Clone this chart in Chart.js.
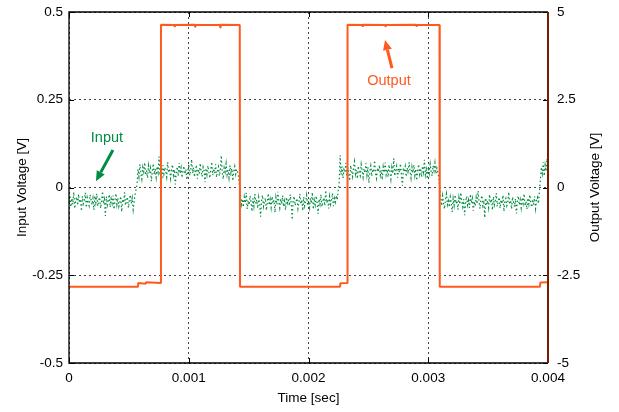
<!DOCTYPE html>
<html>
<head>
<meta charset="utf-8">
<script src="https://cdn.jsdelivr.net/npm/chart.js@4.4.1/dist/chart.umd.min.js"></script>
<style>
  html, body { margin: 0; padding: 0; background: #fff; }
  #wrap { width: 619px; height: 412px; }
</style>
</head>
<body>
<div id="wrap"><canvas id="c" width="619" height="412"></canvas></div>
<script>
// sample spacing of the input trace (seconds)
const inputStep = 0.000008;

// input voltage samples [V]
const inputVolts = [
  -0.041,-0.022,-0.055,-0.030,-0.048,-0.013,-0.060,-0.036,-0.027,-0.051,-0.019,-0.044,
  -0.033,-0.067,-0.025,-0.046,-0.038,-0.015,-0.057,-0.029,-0.042,-0.052,-0.021,-0.035,
  -0.049,-0.031,-0.064,-0.024,-0.043,-0.018,-0.053,-0.037,-0.028,-0.059,-0.040,-0.011,
  -0.047,-0.034,-0.081,-0.026,-0.050,-0.039,-0.020,-0.056,-0.032,-0.045,-0.023,-0.062,
  -0.036,-0.017,-0.048,-0.030,-0.054,-0.041,-0.025,-0.069,-0.033,-0.044,-0.014,-0.051,
  -0.038,-0.027,-0.058,-0.035,-0.021,-0.046,-0.030,-0.063,-0.040,-0.019,-0.006,0.008,

  0.052,0.031,0.066,0.040,0.024,0.058,0.045,0.071,0.035,0.049,0.027,0.062,
  0.041,0.055,0.018,0.047,0.068,0.037,0.053,0.029,0.060,0.044,0.088,0.034,
  0.050,0.023,0.063,0.039,0.057,0.046,0.030,0.072,0.042,0.054,0.026,0.048,
  0.065,0.036,0.051,0.009,0.043,0.059,0.033,0.070,0.040,0.056,0.028,0.047,
  0.061,0.038,0.052,0.022,0.045,0.067,0.034,0.049,0.080,0.041,0.057,0.030,
  0.046,0.064,0.025,0.053,0.039,0.069,0.044,0.031,0.058,0.048,0.015,0.055,
  0.037,0.062,0.043,0.027,0.050,0.073,0.035,0.054,0.040,0.066,0.029,0.047,
  0.059,0.033,0.052,0.091,0.042,0.024,0.056,0.045,0.068,0.036,0.050,0.028,
  0.063,0.041,0.054,0.019,0.047,0.060,0.038,0.052,0.044,0.030,

  0.003,-0.021,-0.048,-0.033,-0.056,-0.027,-0.044,-0.015,-0.061,-0.037,-0.050,-0.024,
  -0.042,-0.068,-0.031,-0.053,-0.019,-0.046,-0.035,-0.059,-0.028,-0.047,-0.083,-0.038,
  -0.022,-0.054,-0.040,-0.030,-0.065,-0.043,-0.017,-0.050,-0.034,-0.057,-0.026,-0.045,
  -0.036,-0.071,-0.029,-0.049,-0.012,-0.041,-0.058,-0.032,-0.047,-0.023,-0.055,-0.039,
  -0.064,-0.028,-0.044,-0.034,-0.052,-0.020,-0.046,-0.092,-0.037,-0.025,-0.051,-0.040,
  -0.031,-0.060,-0.043,-0.018,-0.048,-0.035,-0.066,-0.027,-0.053,-0.041,-0.022,-0.049,
  -0.038,-0.057,-0.030,-0.045,-0.014,-0.062,-0.036,-0.050,-0.024,-0.043,-0.075,-0.033,
  -0.047,-0.020,-0.055,-0.039,-0.029,-0.052,-0.008,-0.044,-0.034,-0.060,-0.026,-0.048,
  -0.037,-0.016,-0.053,-0.031,-0.042,-0.023,-0.035,-0.010,0.012,

  0.092,0.036,0.060,0.027,0.051,0.043,0.070,0.033,0.055,0.040,0.019,0.063,
  0.046,0.031,0.057,0.074,0.038,0.050,0.025,0.061,0.044,0.034,0.066,0.048,
  0.029,0.054,0.041,0.069,0.036,0.058,0.013,0.047,0.062,0.032,0.053,0.043,
  0.077,0.039,0.026,0.056,0.045,0.064,0.035,0.050,0.022,0.059,0.042,0.071,
  0.037,0.052,0.030,0.065,0.046,0.024,0.057,0.040,0.083,0.033,0.049,0.061,
  0.028,0.054,0.043,0.068,0.036,0.005,0.051,0.045,0.060,0.031,0.056,0.039,
  0.072,0.047,0.027,0.058,0.042,0.064,0.034,0.053,0.020,0.049,0.066,0.038,
  0.055,0.030,0.061,0.044,0.079,0.036,0.051,0.025,0.058,0.041,0.067,0.046,
  0.033,0.062,0.048,0.070,0.039,0.055,0.043,0.028,

  -0.004,-0.030,-0.052,-0.024,-0.045,-0.061,-0.035,-0.018,-0.049,-0.038,-0.056,-0.027,
  -0.043,-0.070,-0.032,-0.051,-0.021,-0.046,-0.037,-0.063,-0.029,-0.048,-0.015,-0.040,
  -0.055,-0.033,-0.079,-0.042,-0.025,-0.050,-0.036,-0.058,-0.019,-0.044,-0.031,-0.066,
  -0.039,-0.053,-0.028,-0.047,-0.010,-0.041,-0.060,-0.034,-0.023,-0.052,-0.043,-0.086,
  -0.030,-0.049,-0.037,-0.057,-0.020,-0.045,-0.033,-0.064,-0.026,-0.050,-0.039,-0.016,
  -0.054,-0.041,-0.028,-0.059,-0.035,-0.047,-0.022,-0.068,-0.038,-0.031,-0.052,-0.044,
  -0.013,-0.048,-0.036,-0.061,-0.027,-0.042,-0.055,-0.032,-0.074,-0.040,-0.024,-0.050,
  -0.035,-0.058,-0.029,-0.045,-0.018,-0.053,-0.039,-0.062,-0.030,-0.047,-0.021,-0.043,
  -0.056,-0.034,-0.049,-0.025,-0.060,-0.038,-0.028,-0.046,-0.014,

  0.021,0.058,0.040,0.072,0.033,0.064,0.047,0.082,0.052
];

// output trace corners (time [s], voltage [V])
const outputTimes = [
  0, 0.000576, 0.000578, 0.000640, 0.000644, 0.000766, 0.000768, 0.000880, 0.000883, 0.000886,
  0.001050, 0.001053, 0.001056, 0.001260, 0.001263, 0.001266, 0.001426, 0.001428, 0.002263, 0.002266,
  0.002324, 0.002326, 0.002450, 0.002453, 0.002456, 0.002640, 0.002643, 0.002646, 0.002900, 0.002903,
  0.002906, 0.003094, 0.003096, 0.003933, 0.003936, 0.004
];
const outputVolts = [
  -2.83, -2.83, -2.72, -2.74, -2.70, -2.72, 4.64, 4.63, 4.57, 4.63,
  4.64, 4.58, 4.63, 4.63, 4.56, 4.64, 4.63, -2.83, -2.83, -2.73,
  -2.72, 4.64, 4.63, 4.58, 4.64, 4.63, 4.57, 4.63, 4.64, 4.58,
  4.63, 4.63, -2.83, -2.83, -2.71, -2.70
];

const timeTicks = [0, 0.001, 0.002, 0.003, 0.004];
const inputTicks = [-0.5, -0.25, 0, 0.25, 0.5];
const outputTicks = [-5, -2.5, 0, 2.5, 5];

const green = '#008c42';
const orange = '#ff5a1e';
const FONT = 'Liberation Sans, Arial, Helvetica, sans-serif';

const inputPts = inputVolts.map((v, i) => ({ x: i * inputStep, y: v }));
const outputPts = outputTimes.map((t, i) => ({ x: t, y: outputVolts[i] }));

function arrow(ctx, x1, y1, x2, y2, color) {
  const ang = Math.atan2(y2 - y1, x2 - x1);
  const head = 10, half = 4.5;
  const bx = x2 - head * Math.cos(ang), by = y2 - head * Math.sin(ang);
  ctx.strokeStyle = color;
  ctx.fillStyle = color;
  ctx.lineWidth = 3;
  ctx.beginPath();
  ctx.moveTo(x1, y1);
  ctx.lineTo(bx, by);
  ctx.stroke();
  ctx.beginPath();
  ctx.moveTo(x2, y2);
  ctx.lineTo(bx + half * Math.sin(ang), by - half * Math.cos(ang));
  ctx.lineTo(bx - half * Math.sin(ang), by + half * Math.cos(ang));
  ctx.closePath();
  ctx.fill();
}

const decor = {
  id: 'decor',
  afterDatasetsDraw(chart) {
    const { ctx, chartArea: a, scales: { x, y, y2 } } = chart;
    ctx.save();
    // inward tick marks
    ctx.strokeStyle = '#000';
    ctx.lineWidth = 1;
    timeTicks.forEach(t => {
      const px = Math.round(x.getPixelForValue(t)) + 0.5;
      ctx.beginPath();
      ctx.moveTo(px, a.bottom); ctx.lineTo(px, a.bottom - 5);
      ctx.moveTo(px, a.top); ctx.lineTo(px, a.top + 5);
      ctx.stroke();
    });
    inputTicks.forEach(v => {
      const py = Math.round(y.getPixelForValue(v)) + 0.5;
      ctx.beginPath();
      ctx.moveTo(a.left, py); ctx.lineTo(a.left + 5, py);
      ctx.moveTo(a.right, py); ctx.lineTo(a.right - 5, py);
      ctx.stroke();
    });
    // frame
    ctx.lineWidth = 1.3;
    ctx.beginPath();
    ctx.moveTo(a.right, a.top);
    ctx.lineTo(a.left, a.top);
    ctx.lineTo(a.left, a.bottom);
    ctx.lineTo(a.right, a.bottom);
    ctx.stroke();
    ctx.strokeStyle = '#7a1c00';
    ctx.lineWidth = 2;
    ctx.beginPath();
    ctx.moveTo(a.right, a.top); ctx.lineTo(a.right, a.bottom);
    ctx.stroke();

    // annotations
    ctx.font = '14.5px ' + FONT;
    ctx.textAlign = 'center';
    ctx.textBaseline = 'middle';
    ctx.fillStyle = green;
    ctx.fillText('Input', x.getPixelForValue(0.000317), y.getPixelForValue(0.141));
    arrow(ctx, x.getPixelForValue(0.000367), y.getPixelForValue(0.107),
               x.getPixelForValue(0.000225), y.getPixelForValue(0.018), green);
    ctx.fillStyle = orange;
    ctx.fillText('Output', x.getPixelForValue(0.002672), y2.getPixelForValue(3.03));
    arrow(ctx, x.getPixelForValue(0.002697), y2.getPixelForValue(3.40),
               x.getPixelForValue(0.002639), y2.getPixelForValue(4.20), orange);

    // right axis title, reading bottom to top
    ctx.fillStyle = '#000';
    ctx.font = '13.5px ' + FONT;
    ctx.translate(595, (a.top + a.bottom) / 2);
    ctx.rotate(-Math.PI / 2);
    ctx.fillText('Output Voltage [V]', 0, 0);
    ctx.restore();
  }
};

const fmt = d => v => String(parseFloat(Number(v).toFixed(d)));

new Chart(document.getElementById('c'), {
  type: 'line',
  data: {
    datasets: [
      {
        label: 'Output',
        data: outputPts,
        yAxisID: 'y2',
        borderColor: orange,
        borderWidth: 2,
        borderJoinStyle: 'bevel',
        pointRadius: 0,
        tension: 0,
        order: 0
      },
      {
        label: 'Input',
        data: inputPts,
        yAxisID: 'y',
        borderColor: green,
        borderWidth: 1.2,
        borderDash: [1.5, 2.5],
        pointRadius: 0,
        tension: 0,
        order: 1
      }
    ]
  },
  options: {
    responsive: false,
    animation: false,
    layout: { padding: { top: 12, left: 0, right: 0, bottom: 0 } },
    plugins: { legend: { display: false }, tooltip: { enabled: false } },
    scales: {
      x: {
        type: 'linear',
        min: 0, max: 0.004,
        afterBuildTicks: s => { s.ticks = timeTicks.map(v => ({ value: v })); },
        afterFit: s => { s.height = 49; s.paddingLeft = 0; s.paddingRight = 0; },
        ticks: { color: '#000', font: { family: FONT, size: 13.5 }, padding: 7, maxRotation: 0, callback: fmt(3) },
        grid: { color: '#444', lineWidth: 1, drawTicks: false },
        border: { display: false, dash: [2, 3] },
        title: { display: true, text: 'Time [sec]', color: '#000', font: { family: FONT, size: 13.5 }, padding: { top: 0, bottom: 6 } }
      },
      y: {
        position: 'left',
        min: -0.5, max: 0.5,
        afterBuildTicks: s => { s.ticks = inputTicks.map(v => ({ value: v })); },
        afterFit: s => { s.width = 69; s.paddingTop = 0; s.paddingBottom = 0; },
        ticks: { color: '#000', font: { family: FONT, size: 13.5 }, padding: 6, callback: fmt(2) },
        grid: { color: '#444', lineWidth: 1, drawTicks: false },
        border: { display: false, dash: [2, 3] },
        title: { display: true, text: 'Input Voltage [V]', color: '#000', font: { family: FONT, size: 13.5 }, padding: { top: 14, bottom: 0 } }
      },
      y2: {
        position: 'right',
        min: -5, max: 5,
        afterBuildTicks: s => { s.ticks = outputTicks.map(v => ({ value: v })); },
        afterFit: s => { s.width = 71; s.paddingTop = 0; s.paddingBottom = 0; },
        ticks: { color: '#000', font: { family: FONT, size: 13.5 }, padding: 9, callback: fmt(1) },
        grid: { display: false, drawTicks: false },
        border: { display: false }
      }
    }
  },
  plugins: [decor]
});
</script>
</body>
</html>
